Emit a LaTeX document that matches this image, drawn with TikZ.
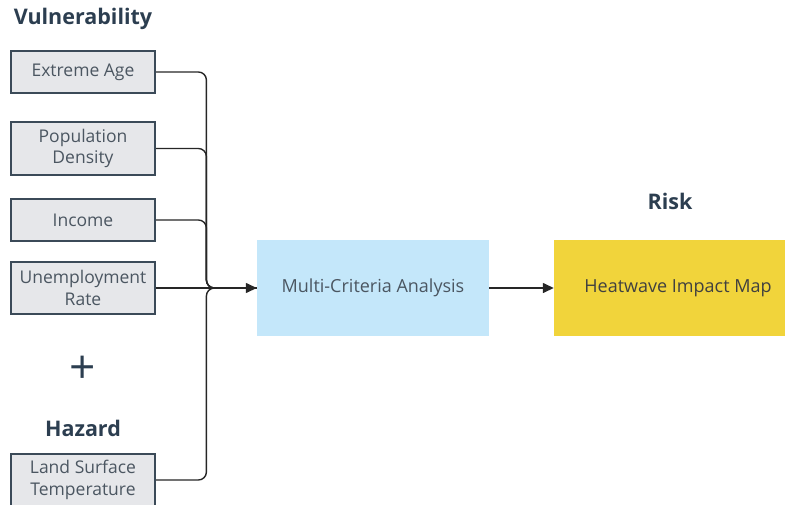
\documentclass[tikz,border=0pt]{standalone}
\usepackage{fontspec}
\setmainfont{Open Sans}
\usetikzlibrary{arrows.meta, calc}
\definecolor{inkslate}{HTML}{2C3E50}
\definecolor{boxline}{HTML}{3B4A58}
\definecolor{boxfill}{HTML}{E6E7EA}
\definecolor{boxtext}{HTML}{4B5661}
\definecolor{mcafill}{HTML}{C4E7FA}
\definecolor{mapfill}{HTML}{F1D43B}

\begin{document}
\begin{tikzpicture}[x=1pt, y={(0pt,-1pt)},
    factor/.style={draw=boxline, line width=2pt, fill=boxfill, text=boxtext,
        minimum width=144pt, minimum height=42pt, align=center,
        font=\fontsize{17.5}{21.5}\selectfont, inner sep=1pt},
    stage/.style={minimum width=232pt, minimum height=96pt, align=center,
        font=\fontsize{18}{22}\selectfont, inner sep=2pt},
    heading/.style={text=inkslate, font=\fontsize{21.5}{26}\selectfont\bfseries},
    link/.style={line width=1.4pt, draw=black!85, rounded corners=8pt},
    tip/.style={-{Triangle[length=11pt, width=10pt]}}]
    \useasboundingbox (0,0) rectangle (785,504);

    % --- Headings ---
    \node[heading] (vul) at (83,19) {Vulnerability};
    \node[heading] (haz) at (83,428) {Hazard};
    \node[heading] (risk) at (670,201) {Risk};
    \node[text=inkslate, font=\fontsize{46}{46}\selectfont] (plus) at (83,370) {+};

    % --- Vulnerability factors ---
    \node[factor] (ea) at (83,72) {Extreme Age};
    \node[factor, minimum height=53pt] (pd) at (83,148.5) {Population\\Density};
    \node[factor] (inc) at (83,220) {Income};
    \node[factor, minimum height=52pt] (um) at (83,288) {Unemployment\\Rate};

    % --- Hazard factor ---
    \node[factor, minimum height=52pt] (lst) at (83,480) {Land Surface\\Temperature};

    % --- Analysis and result ---
    \node[stage, fill=mcafill, text=boxtext] (mca) at (373,288) {Multi-Criteria Analysis};
    \node[stage, minimum width=248pt, fill=mapfill, text=black!75] (map) at (678,288) {Heatwave Impact Map};

    % --- Connectors into the analysis ---
    \coordinate (join) at ($(um.east)!0.5!(mca.west)$);
    \foreach \src in {ea, pd, inc, lst}
        \draw[link] (\src.east) -| (join) -- (mca.west);
    \draw[link, tip] (um.east) -- (mca.west);
    \draw[link, tip] (mca.east) -- (map.west);
\end{tikzpicture}
\end{document}
